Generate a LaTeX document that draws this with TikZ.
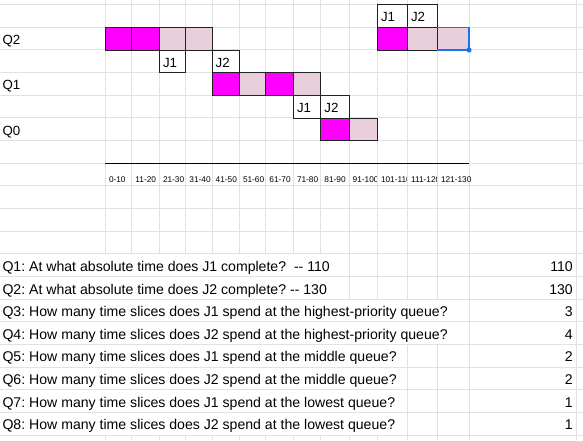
\documentclass[tikz,border=0pt]{standalone}
\usepackage{fontspec}
\setmainfont{Liberation Sans}
\frenchspacing
\definecolor{gridgray}{HTML}{E2E2E2}
\definecolor{hotpink}{HTML}{FF00FF}
\definecolor{softpink}{HTML}{E8CFDB}
\definecolor{selblue}{HTML}{1A73E8}
\definecolor{edge}{HTML}{222222}
\begin{document}
\begin{tikzpicture}[x=1pt,y=-1pt,
  gridline/.style={draw=gridgray,line width=0.9pt},
  hot/.style={fill=hotpink,draw=edge,line width=0.8pt},
  soft/.style={fill=softpink,draw=edge,line width=0.8pt},
  jbox/.style={fill=white,draw=edge,line width=0.8pt},
  lab/.style={font=\fontsize{13.3}{15}\selectfont,anchor=base west,inner sep=0pt},
  qlab/.style={font=\fontsize{14.1}{16}\selectfont,anchor=base west,inner sep=0pt},
  num/.style={font=\fontsize{14.1}{16}\selectfont,anchor=base east,inner sep=0pt},
  tick/.style={font=\fontsize{8.3}{10}\selectfont,anchor=base west,inner sep=0pt}]
\useasboundingbox[fill=white] (0,0) rectangle (583,440);
% horizontal grid lines
\foreach \yy in {4.6,27.3,49.9,72.6,95.2,117.9,140.6,163.2,185.9,208.5,231.2,253.9,276.5,299.2,321.8,344.5,367.1,389.8,412.4,435.1}
  \draw[gridline] (0,\yy) -- (583,\yy);
% vertical grid lines, upper block
\foreach \xx in {105.3,131.7,159.3,185.7,212,239.3,265.7,293.3,320.7,349,377.3,407.3,437.3,469,576.7}
  {\draw[gridline] (\xx,0) -- (\xx,253.9);
   \draw[gridline] (\xx,435.1) -- (\xx,440);}
% vertical grid lines in the question rows
\foreach \xx in {349,377.3,407.3,437.3,469,576.7}
  \draw[gridline] (\xx,253.9) -- (\xx,299.2);
\foreach \xx in {469,576.7}
  \draw[gridline] (\xx,299.2) -- (\xx,344.5);
\foreach \xx in {407.3,437.3,469,576.7}
  \draw[gridline] (\xx,344.5) -- (\xx,435.1);
% Q2 row
\draw[hot] (105.3,27.3) rectangle (131.7,49.9);
\draw[hot] (131.7,27.3) rectangle (159.3,49.9);
\draw[soft] (159.3,27.3) rectangle (185.7,49.9);
\draw[soft] (185.7,27.3) rectangle (212,49.9);
\draw[hot] (377.3,27.3) rectangle (407.3,49.9);
\draw[soft] (407.3,27.3) rectangle (437.3,49.9);
\draw[soft] (437.3,27.3) rectangle (469,49.9);
% Q1 row
\draw[hot] (212,72.6) rectangle (239.3,95.2);
\draw[soft] (239.3,72.6) rectangle (265.7,95.2);
\draw[hot] (265.7,72.6) rectangle (293.3,95.2);
\draw[soft] (293.3,72.6) rectangle (320.7,95.2);
% Q0 row
\draw[hot] (320.7,117.9) rectangle (349,140.6);
\draw[soft] (349,117.9) rectangle (377.3,140.6);
% J label boxes
\draw[jbox] (377.3,4.6) rectangle (407.3,27.3);
\draw[jbox] (407.3,4.6) rectangle (437.3,27.3);
\draw[jbox] (159.3,49.9) rectangle (185.7,72.6);
\draw[jbox] (212,49.9) rectangle (239.3,72.6);
\draw[jbox] (293.3,95.2) rectangle (320.7,117.9);
\draw[jbox] (320.7,95.2) rectangle (349,117.9);
\node[lab] (ja1) at (380.8,21.8) {J1};
\node[lab] (ja2) at (410.8,21.8) {J2};
\node[lab] (jb1) at (162.8,67.1) {J1};
\node[lab] (jb2) at (215.5,67.1) {J2};
\node[lab] (jc1) at (296.8,112.4) {J1};
\node[lab] (jc2) at (324.2,112.4) {J2};
% selection
\draw[selblue,line width=1.5pt] (437.3,27.3) -- (469,27.3) -- (469,49.9) -- (437.3,49.9);
\fill[selblue] (469,49.9) circle (2.6);
% queue labels
\node[lab] (q2) at (2.3,44.4) {Q2};
\node[lab] (q1) at (2.3,89.7) {Q1};
\node[lab] (q0) at (2.3,135.1) {Q0};
% axis
\coordinate (axl) at (105.3,163.2);
\coordinate (axr) at (469,163.2);
\draw[black,line width=0.9pt] (axl) -- (axr);
\node[tick] (t0) at (108.8,182.8) {0-10};
\node[tick] (t1) at (135.2,182.8) {11-20};
\node[tick] (t2) at (162.8,182.8) {21-30};
\node[tick] (t3) at (189.2,182.8) {31-40};
\node[tick] (t4) at (215.5,182.8) {41-50};
\node[tick] (t5) at (242.8,182.8) {51-60};
\node[tick] (t6) at (269.2,182.8) {61-70};
\node[tick] (t7) at (296.8,182.8) {71-80};
\node[tick] (t8) at (324.2,182.8) {81-90};
\begin{scope}
\clip (349,163.2) rectangle (376.3,185.9);
\node[tick] (t9) at (352.5,182.8) {91-100};
\end{scope}
\begin{scope}
\clip (377.3,163.2) rectangle (406.3,185.9);
\node[tick] (t10) at (380.8,182.8) {101-110};
\end{scope}
\begin{scope}
\clip (407.3,163.2) rectangle (436.3,185.9);
\node[tick] (t11) at (410.8,182.8) {111-120};
\end{scope}
\node[tick] (t12) at (440.8,182.8) {121-130};
% questions
\node[qlab] (a1) at (2.3,271.4) {Q1: At what absolute time does J1 complete?\ \ -{}- 110};
\node[qlab] (a2) at (2.3,294.0) {Q2: At what absolute time does J2 complete? -{}- 130};
\node[qlab] (a3) at (2.3,316.6) {Q3: How many time slices does J1 spend at the highest-priority queue?};
\node[qlab] (a4) at (2.3,339.3) {Q4: How many time slices does J2 spend at the highest-priority queue?};
\node[qlab] (a5) at (2.3,361.9) {Q5: How many time slices does J1 spend at the middle queue?};
\node[qlab] (a6) at (2.3,384.6) {Q6: How many time slices does J2 spend at the middle queue?};
\node[qlab] (a7) at (2.3,407.2) {Q7: How many time slices does J1 spend at the lowest queue?};
\node[qlab] (a8) at (2.3,429.9) {Q8: How many time slices does J2 spend at the lowest queue?};
\node[num] (n1) at (573,271.4) {110};
\node[num] (n2) at (573,294.0) {130};
\node[num] (n3) at (573,316.6) {3};
\node[num] (n4) at (573,339.3) {4};
\node[num] (n5) at (573,361.9) {2};
\node[num] (n6) at (573,384.6) {2};
\node[num] (n7) at (573,407.2) {1};
\node[num] (n8) at (573,429.9) {1};
\end{tikzpicture}
\end{document}
